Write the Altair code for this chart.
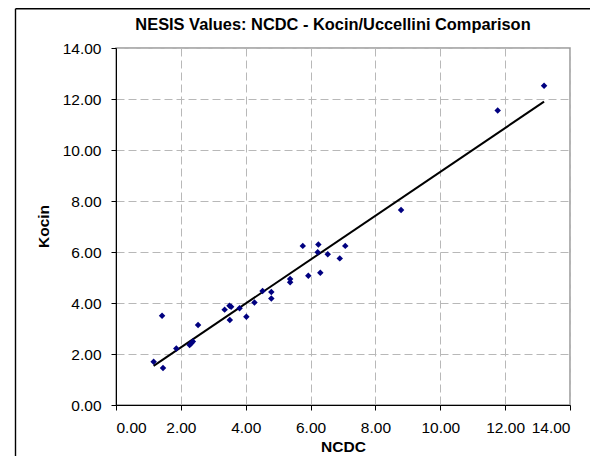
import altair as alt
import pandas as pd

ncdc = [1.16, 1.45, 1.42, 1.86, 2.27, 2.32, 2.37, 2.53, 3.35, 3.50, 3.55, 3.51, 3.81, 4.02,
        4.27, 4.52, 4.79, 4.79, 5.37, 5.37, 5.76, 5.93, 6.24, 6.22, 6.30, 6.53, 6.90, 7.07,
        8.79, 11.77, 13.20]
kocin = [1.70, 1.45, 3.50, 2.22, 2.35, 2.42, 2.49, 3.14, 3.74, 3.89, 3.85, 3.33, 3.79, 3.46,
         4.02, 4.47, 4.43, 4.18, 4.94, 4.81, 6.24, 5.07, 6.29, 5.99, 5.19, 5.91, 5.75, 6.24,
         7.65, 11.55, 12.52]
tick_values = [0, 2, 4, 6, 8, 10, 12, 14]
title_text = "NESIS Values: NCDC - Kocin/Uccellini Comparison"

df = pd.DataFrame({"NCDC": ncdc, "Kocin": kocin})
one = pd.DataFrame({"t": [title_text]})
FONT = "Liberation Sans"

xenc = alt.X("NCDC:Q", scale=alt.Scale(domain=[0, 14], nice=False),
             axis=alt.Axis(values=tick_values, format=".2f", title="NCDC",
                           titleX=227, titleY=46.5, titleBaseline="alphabetic",
                           titleAlign="center"))
yenc = alt.Y("Kocin:Q", scale=alt.Scale(domain=[0, 14], nice=False),
             axis=alt.Axis(values=tick_values, format=".2f", title="Kocin",
                           titleX=-73, titleY=178, titleAngle=-90,
                           titleBaseline="middle", titleAlign="center"))

points = alt.Chart(df).mark_point(shape="diamond", filled=True, size=42,
                                  color="#000080", opacity=1).encode(x=xenc, y=yenc)

trend = alt.Chart(df).transform_regression("NCDC", "Kocin").mark_line(
    color="black", strokeWidth=2).encode(x="NCDC:Q", y="Kocin:Q")

frame_left = alt.Chart(one).mark_rule(color="black", strokeWidth=1.4).encode(
    x=alt.value(-100.5), y=alt.value(-39.3), y2=alt.value(420))
frame_top = alt.Chart(one).mark_rule(color="black", strokeWidth=1.4).encode(
    y=alt.value(-39.3), x=alt.value(-100.5), x2=alt.value(480))

title = alt.Chart(one).mark_text(font=FONT, fontSize=16.4, fontWeight="bold",
                                 color="black", align="center",
                                 baseline="alphabetic").encode(
    text="t:N", x=alt.value(217), y=alt.value(-17.9))

chart = alt.layer(frame_left, frame_top, title, trend, points).properties(
    width=454, height=357,
    autosize=alt.AutoSizeParams(type="none"),
    padding={"left": 108, "top": 40, "right": 20, "bottom": 51},
).configure_view(stroke="#999999", strokeWidth=1.5).configure_axis(
    labelFont=FONT, labelFontSize=15.5, labelColor="black",
    titleFont=FONT, titleFontSize=15.5, titleFontWeight="bold", titleColor="black",
    domainColor="black", domainWidth=1, tickColor="black", tickSize=5, tickWidth=1,
    labelPadding=10, gridColor="#b8b8b8", gridDash=[8, 4], gridWidth=1,
)

chart.save("out.html", embed_options={"renderer": "svg", "actions": False})
